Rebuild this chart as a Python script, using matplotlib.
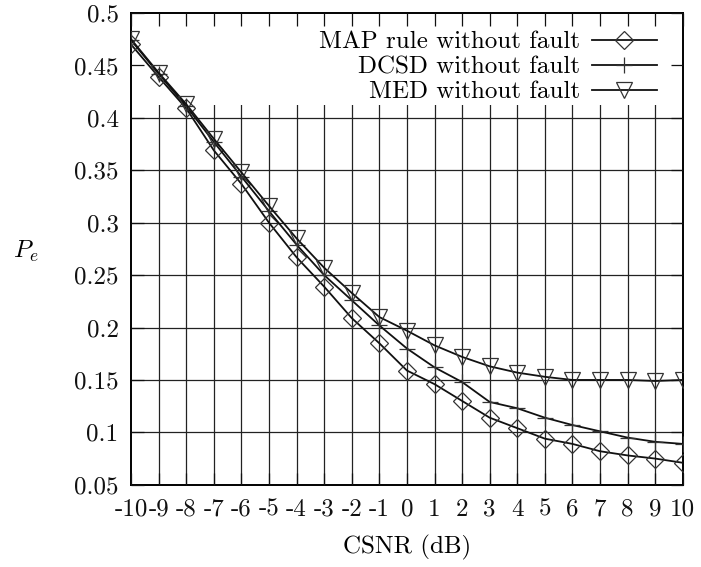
import numpy as np
import matplotlib.pyplot as plt
from matplotlib.patches import Rectangle

plt.rcParams['font.family'] = 'cmr10'
plt.rcParams['mathtext.fontset'] = 'cm'
plt.rcParams['axes.unicode_minus'] = False

# CSNR values in dB
csnr = np.arange(-10, 11)

# error probability for each detector
pe_map = [0.470, 0.439, 0.409, 0.369, 0.337, 0.300, 0.267, 0.239, 0.209, 0.185, 0.159,
          0.146, 0.130, 0.114, 0.104, 0.094, 0.089, 0.082, 0.078, 0.075, 0.071]
pe_dcsd = [0.474, 0.442, 0.411, 0.377, 0.344, 0.311, 0.279, 0.250, 0.226, 0.202, 0.180,
           0.162, 0.148, 0.129, 0.123, 0.114, 0.107, 0.101, 0.095, 0.091, 0.089]
pe_med = [0.475, 0.443, 0.413, 0.380, 0.348, 0.316, 0.285, 0.257, 0.233, 0.210, 0.197,
          0.183, 0.172, 0.163, 0.157, 0.153, 0.150, 0.150, 0.150, 0.149, 0.150]

xticks = list(range(-10, 11))
xtick_labels = [str(v) for v in xticks]
yticks = [0.05, 0.1, 0.15, 0.2, 0.25, 0.3, 0.35, 0.4, 0.45, 0.5]
ytick_labels = ['0.05', '0.1', '0.15', '0.2', '0.25', '0.3', '0.35', '0.4', '0.45', '0.5']

fig = plt.figure(figsize=(7.01, 5.67), dpi=100)
ax = fig.add_axes([0.187, 0.145, 0.787, 0.832])
ax.set_xlim(-10, 10)
ax.set_ylim(0.05, 0.5)

# grid drawn by hand so the key box can sit on top of it but under the curves
for x in xticks[1:-1]:
    ax.plot([x, x], [0.05, 0.5], color='#222222', lw=0.9, zorder=1)
for y in yticks[1:-1]:
    ax.plot([-10, 10], [y, y], color='#222222', lw=0.9, zorder=1)
ax.add_patch(Rectangle((0, 0.805), 1, 0.195, transform=ax.transAxes,
                       facecolor='white', edgecolor='none', zorder=1.2))

mk = dict(markerfacecolor='none', markeredgecolor='#333333', markeredgewidth=0.9)
ax.plot(csnr, pe_map, color='#111111', lw=1.3, marker='D', ms=9.5,
        label='MAP rule without fault', zorder=3, **mk)
ax.plot(csnr, pe_dcsd, color='#111111', lw=1.3, marker='+', ms=12,
        label='DCSD without fault', zorder=3, **mk)
ax.plot(csnr, pe_med, color='#111111', lw=1.3, marker='v', ms=12,
        label='MED without fault', zorder=3, **mk)

ax.set_axisbelow(False)
ax.set_xticks(xticks)
ax.set_xticklabels(xtick_labels)
ax.set_yticks(yticks)
ax.set_yticklabels(ytick_labels)
ax.tick_params(direction='in', length=9, width=0.9, top=True, right=True,
               labelsize=18, colors='#111111')
ax.tick_params(axis='x', pad=10)
ax.tick_params(axis='y', pad=9)
for s in ax.spines.values():
    s.set_linewidth(1.4)

ax.set_xlabel('CSNR (dB)', fontsize=18, labelpad=10)
ax.set_ylabel('$P_e$', fontsize=18, rotation=0, ha='center', va='center')
ax.yaxis.set_label_coords(-0.19, 0.494)

leg = ax.legend(loc='upper right', frameon=False, markerfirst=False, alignment='right',
                fontsize=18, handlelength=2.6, handletextpad=0.48, labelspacing=0.1,
                borderpad=0, borderaxespad=0, bbox_to_anchor=(0.953, 0.962))

fig.savefig('out.png', dpi=100)
